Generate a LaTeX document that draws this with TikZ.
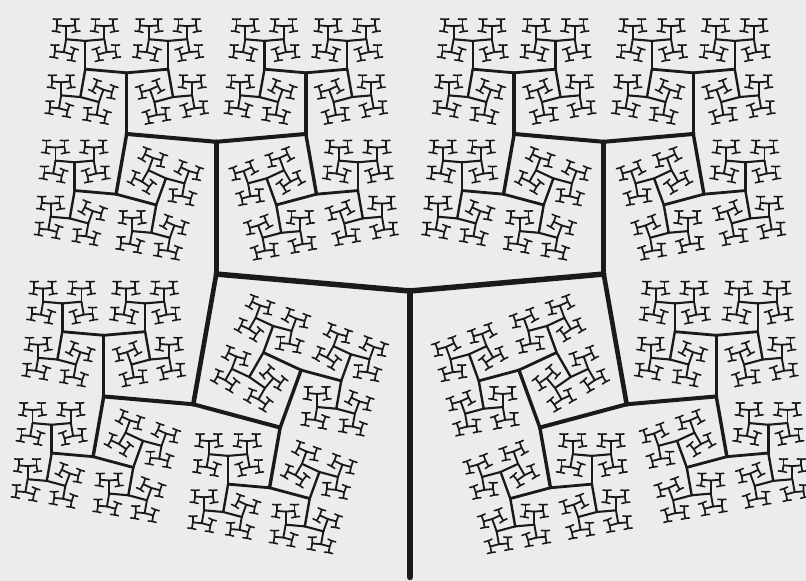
\documentclass[tikz,border=0pt]{standalone}
\usepackage{tikz}
\definecolor{hbg}{RGB}{236,236,238}
\definecolor{hink}{RGB}{26,26,28}
\newcommand\hdepth{12}
\newcommand\hturn{85}
\newcommand\hratio{0.68}
\tikzset{
  hseg/.style={draw=hink, line cap=round},
  hw0/.style={line width=6.5pt}, hw1/.style={line width=5.5pt},
  hw2/.style={line width=4.6pt}, hw3/.style={line width=4pt},
  hw4/.style={line width=3.4pt}, hw5/.style={line width=2.8pt},
  hw6/.style={line width=2.4pt}, hw7/.style={line width=2.1pt},
  hw8/.style={line width=1.9pt}, hw9/.style={line width=1.8pt},
  hw10/.style={line width=1.7pt}, hw11/.style={line width=1.6pt}
}
\newcommand\hbranch[1]{%
  \ifnum#1<\hdepth\relax
    \draw[hseg, hw#1] (0,0) -- (0,1);
    \begin{scope}[shift={(0,1)}, rotate=\hturn, scale=\hratio]
      \expandafter\hbranch\expandafter{\the\numexpr#1+1\relax}%
    \end{scope}
    \begin{scope}[shift={(0,1)}, rotate=-\hturn, scale=\hratio]
      \expandafter\hbranch\expandafter{\the\numexpr#1+1\relax}%
    \end{scope}
  \fi}

\begin{document}
\begin{tikzpicture}[x=1pt, y=1pt]
  \fill[hbg] (0,0) rectangle (806,581);
  \useasboundingbox (0,0) rectangle (806,581);

  \begin{scope}[shift={(410,4)}, scale=286]
    \hbranch{0}
  \end{scope}
\end{tikzpicture}
\end{document}
